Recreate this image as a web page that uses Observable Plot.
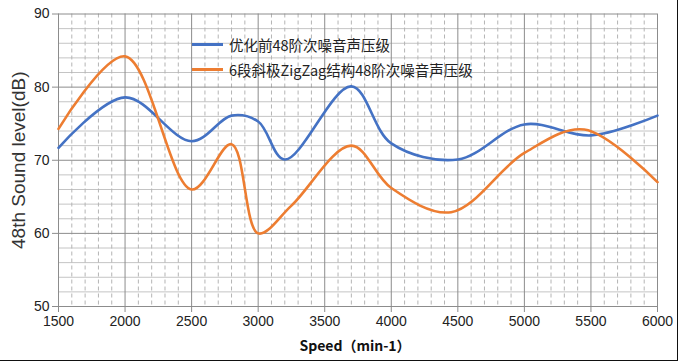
<!DOCTYPE html>
<html><head><meta charset="utf-8">
<script src="https://cdn.jsdelivr.net/npm/d3@7"></script>
<script src="https://cdn.jsdelivr.net/npm/@observablehq/plot@0.6"></script>
<style>
html,body{margin:0;padding:0;background:#fff;}
#wrap{position:relative;width:680px;height:364px;overflow:hidden;}
#frame{position:absolute;left:0;top:0;width:677px;height:360px;border-right:1.5px solid #111;border-bottom:1.5px solid #111;pointer-events:none;}
#legend{position:absolute;left:192px;top:32px;font-family:"Noto Sans CJK SC","Liberation Sans",sans-serif;font-size:14.5px;color:#222;line-height:25px;}
#legend .row{display:flex;align-items:center;white-space:nowrap;}
#legend .sw{width:31px;height:3px;margin-right:6px;}
</style></head>
<body><div id="wrap"></div>
<script>
// Series names
const seriesNames = ["优化前48阶次噪音声压级", "6段斜极ZigZag结构48阶次噪音声压级"];
const seriesColors = ["#4472C4", "#ED7D31"];
// Blue series (before optimisation)
const blueSpeed = [1500, 2000, 2500, 2800, 3000, 3200, 3700, 4000, 4500, 5000, 5500, 6000];
const blueLevel = [71.7, 78.6, 72.6, 76.1, 75.3, 70.1, 80.1, 72.3, 70.1, 74.9, 73.4, 76.1];
// Orange series (6-step skewed ZigZag)
const orangeSpeed = [1500, 2000, 2500, 2800, 3000, 3250, 3700, 4000, 4450, 5000, 5450, 6000];
const orangeLevel = [74.3, 84.2, 66.0, 72.2, 60.0, 63.8, 72.0, 66.2, 62.9, 71.0, 74.2, 67.0];
// Axis ticks
const xTicks = [1500, 2000, 2500, 3000, 3500, 4000, 4500, 5000, 5500, 6000];
const xMinor = d3.range(1500, 6001, 100).filter(v => v % 500 !== 0);
const yTicks = [50, 60, 70, 80, 90];
const yMinor = d3.range(50, 91, 2).filter(v => v % 10 !== 0);

const blue = blueSpeed.map((s, i) => ({speed: s, level: blueLevel[i]}));
const orange = orangeSpeed.map((s, i) => ({speed: s, level: orangeLevel[i]}));

const chart = Plot.plot({
  width: 680, height: 364,
  marginLeft: 58, marginRight: 23, marginTop: 13.5, marginBottom: 58,
  style: {fontFamily: "'Liberation Sans', 'Noto Sans CJK SC', sans-serif", background: "#fff", color: "#333"},
  x: {domain: [1500, 6000]},
  y: {domain: [50, 90]},
  marks: [
    Plot.ruleY(yMinor, {stroke: "#c4c4c4", strokeWidth: 1}),
    Plot.ruleX(xMinor, {stroke: "#b4b4b4", strokeWidth: 1, strokeDasharray: "4,3"}),
    Plot.ruleY(yTicks, {stroke: "#8c8c8c", strokeWidth: 1}),
    Plot.ruleX(xTicks, {stroke: "#8c8c8c", strokeWidth: 1}),
    Plot.axisX({ticks: xTicks, tickSize: 6, tickPadding: 4, tickFormat: d => String(d), fontSize: 14, label: null, stroke: "#8c8c8c", color: "#222"}),
    Plot.axisY({ticks: yTicks, tickSize: 6, tickPadding: 3, fontSize: 14, label: null, stroke: "#8c8c8c", color: "#222"}),
    Plot.line(blue, {x: "speed", y: "level", stroke: seriesColors[0], strokeWidth: 2.6, curve: "catmull-rom"}),
    Plot.line(orange, {x: "speed", y: "level", stroke: seriesColors[1], strokeWidth: 2.6, curve: "catmull-rom"}),
    Plot.text(["48th Sound level(dB)"], {frameAnchor: "left", textAnchor: "middle", rotate: -90, dx: -40, fontSize: 19, fill: "#333"}),
    Plot.text(["Speed（min-1）"], {frameAnchor: "bottom", dy: 44, dx: -3, fontSize: 14, fontWeight: "bold", fill: "#111", fontFamily: "'Noto Sans CJK SC', sans-serif"})
  ]
});
const wrap = document.getElementById("wrap");
wrap.appendChild(chart);
const legend = document.createElement("div");
legend.id = "legend";
seriesNames.forEach((n, i) => {
  const row = document.createElement("div");
  row.className = "row";
  const sw = document.createElement("span");
  sw.className = "sw";
  sw.style.background = seriesColors[i];
  const t = document.createElement("span");
  t.textContent = n;
  row.appendChild(sw); row.appendChild(t);
  legend.appendChild(row);
});
wrap.appendChild(legend);
const frame = document.createElement("div");
frame.id = "frame";
wrap.appendChild(frame);
</script>
</body></html>
